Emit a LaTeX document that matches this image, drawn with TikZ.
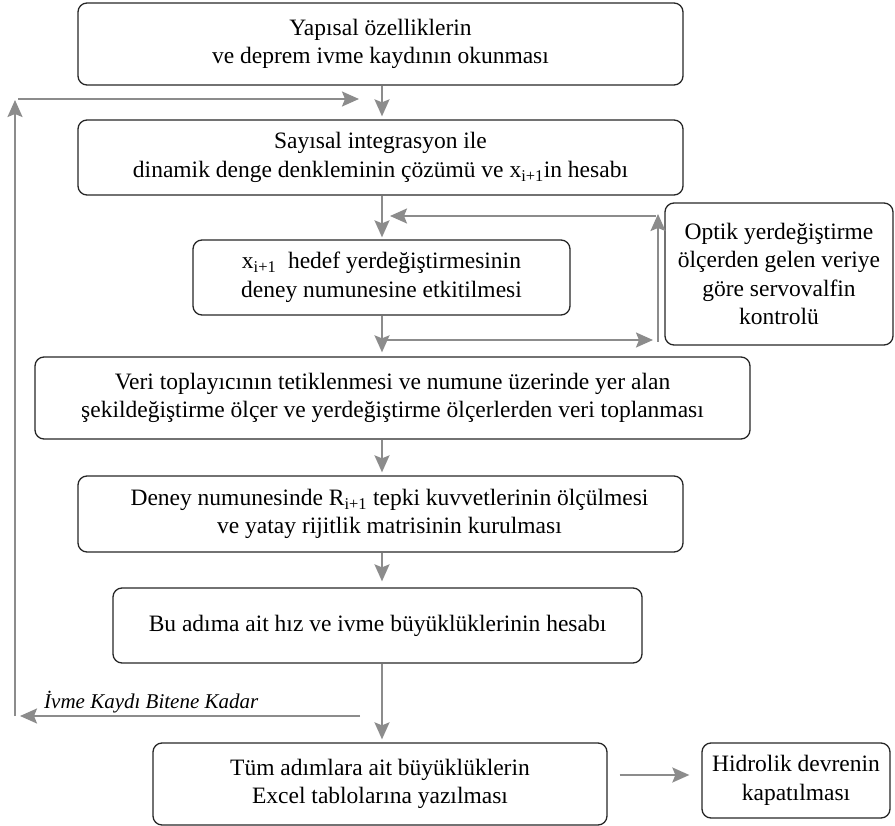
\documentclass[tikz,border=0pt]{standalone}
\usepackage{fontspec}
\setmainfont{Liberation Serif}
\usetikzlibrary{arrows.meta}

\begin{document}
\begin{tikzpicture}[x=1pt, y=-1pt,
    box/.style={draw=black!85, line width=1.3pt, rounded corners=9pt, align=center, inner sep=0pt, font=\fontsize{23.5}{28.5}\selectfont},
    flow/.style={draw=black!45, line width=2pt, -{Stealth[length=17pt,width=15pt,inset=3pt]}}]
    \useasboundingbox (0,0) rectangle (895,826);

    % Main steps
    \node[box, minimum width=605pt, minimum height=82pt] (read) at (380.5,44) {Yapısal özelliklerin\\ve deprem ivme kaydının okunması};
    \node[box, minimum width=605pt, minimum height=75pt] (solve) at (380.5,157.5) {Sayısal integrasyon ile\\dinamik denge denkleminin çözümü ve x\textsubscript{i+1}in hesabı};
    \node[box, minimum width=377pt, minimum height=75pt] (apply) at (381.5,277.5) {x\textsubscript{i+1}~ hedef yerdeğiştirmesinin\\deney numunesine etkitilmesi};
    \node[box, minimum width=228pt, minimum height=142pt] (servo) at (779,274) {Optik yerdeğiştirme\\ölçerden gelen veriye\\göre servovalfin\\kontrolü};
    \node[box, minimum width=715pt, minimum height=82pt] (collect) at (392.5,398) {Veri toplayıcının tetiklenmesi ve numune üzerinde yer alan\\şekildeğiştirme ölçer ve yerdeğiştirme ölçerlerden veri toplanması};
    \node[box, minimum width=605pt, minimum height=76pt] (force) at (380.5,514) {\hspace*{18pt}Deney numunesinde R\textsubscript{i+1} tepki kuvvetlerinin ölçülmesi\\\hspace*{18pt}ve yatay rijitlik matrisinin kurulması};
    \node[box, minimum width=529pt, minimum height=75pt] (vel) at (377.5,625.5) {Bu adıma ait hız ve ivme büyüklüklerinin hesabı};
    \node[box, minimum width=454pt, minimum height=82pt] (write) at (380,784) {Tüm adımlara ait büyüklüklerin\\Excel tablolarına yazılması};
    \node[box, minimum width=188pt, minimum height=75pt] (close) at (796,780.5) {Hidrolik devrenin\\kapatılması};

    % Loop label
    \node[font=\fontsize{21}{24}\selectfont\itshape, anchor=west, inner sep=0pt] (until) at (44,702) {İvme Kaydı Bitene Kadar};

    % Main flow
    \coordinate (spine) at (382,0);
    \draw[flow, shorten >=3pt] (read.south -| spine) -- (solve.north -| spine);
    \draw[flow, shorten >=2pt] (solve.south -| spine) -- (apply.north -| spine);
    \draw[flow, shorten >=4pt] (apply.south -| spine) -- (collect.north -| spine);
    \draw[flow, shorten >=3pt] (collect.south -| spine) -- (force.north -| spine);
    \draw[flow, shorten >=6pt] (force.south -| spine) -- (vel.north -| spine);
    \draw[flow, shorten >=3pt] (vel.south -| spine) -- (write.north -| spine);

    % Servo control loop
    \coordinate (fbFork) at (382,340);
    \coordinate (fbIn) at (653,340);
    \coordinate (fbLow) at (658,342);
    \coordinate (fbHigh) at (658,214);
    \coordinate (fbCorner) at (656,216);
    \coordinate (fbEnd) at (390,216);
    \draw[flow] (fbFork) -- (fbIn);
    \draw[flow] (fbLow) -- (fbHigh);
    \draw[flow] (fbCorner) -- (fbEnd);

    % Time step loop
    \coordinate (loopStart) at (360,716);
    \coordinate (loopTurn) at (20,716);
    \coordinate (loopLow) at (15,716);
    \coordinate (loopHigh) at (15,100);
    \coordinate (loopCorner) at (18,99);
    \coordinate (loopEnd) at (359,99);
    \draw[flow] (loopStart) -- (loopTurn);
    \draw[flow] (loopLow) -- (loopHigh);
    \draw[flow] (loopCorner) -- (loopEnd);

    % Closing step
    \coordinate (exitRow) at (0,775);
    \draw[flow, shorten <=12pt, shorten >=12pt] (write.east |- exitRow) -- (close.west |- exitRow);
\end{tikzpicture}
\end{document}
